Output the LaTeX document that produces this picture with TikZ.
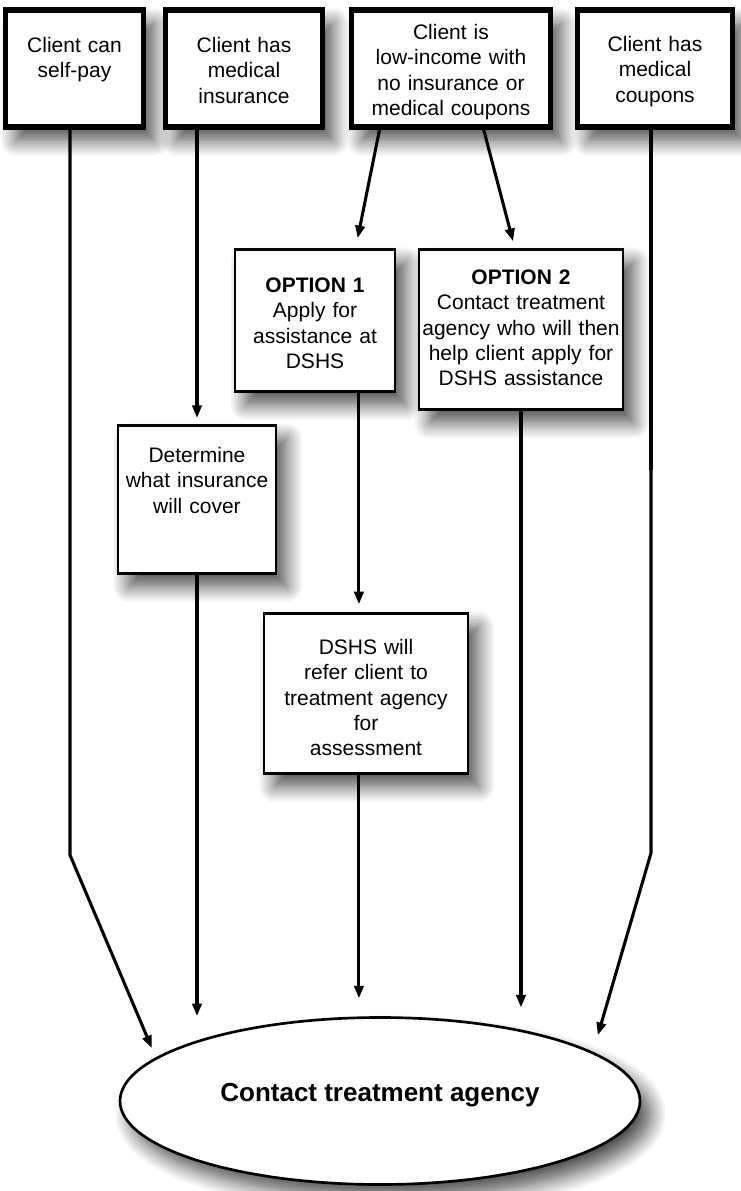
\documentclass[tikz,border=0pt]{standalone}
\usepackage{fontspec}
\setmainfont{Liberation Sans}
\usetikzlibrary{arrows.meta,calc,shapes.geometric,shadows.blur}

\tikzset{every picture/.style={line width=0.75pt}}
\tikzset{
  boxshadow/.style={blur shadow={shadow xshift=8pt, shadow yshift=-10pt, shadow blur radius=12pt, shadow blur steps=12, shadow opacity=70}},
  topbox/.style={draw, line width=4pt, fill=white, inner sep=0pt, align=center, anchor=north,
    font=\fontsize{15.75}{19}\selectfont, boxshadow},
  midbox/.style={topbox, line width=2pt},
  flowline/.style={line width=2.3pt, -{Triangle[length=9.5pt,width=7pt]}},
}

\begin{document}
\begin{tikzpicture}[x=0.75pt,y=0.75pt,yscale=-1,xscale=1]
\useasboundingbox (0,0) rectangle (740,1191);

%Shape: Rectangle [selfpay]
\draw (74.5,7.5) node [topbox, text width=103.5pt, text height=31.875pt, text depth=55.875pt] (selfpay) {Client can\\self-pay};
%Shape: Rectangle [insurance]
\draw (244,7.5) node [topbox, text width=117.75pt, text height=31.875pt, text depth=55.875pt] (insurance) {Client has\\medical\\insurance};
%Shape: Rectangle [lowincome]
\draw (451,7.5) node [topbox, text width=149.25pt, text height=22.125pt, text depth=65.625pt] (lowincome) {Client is\\low-income with\\no insurance or\\medical coupons};
%Shape: Rectangle [coupons]
\draw (655,7.5) node [topbox, text width=116.25pt, text height=31.125pt, text depth=56.625pt] (coupons) {Client has\\medical\\coupons};

%Shape: Rectangle [option 1]
\draw (315,248) node [midbox, text width=120pt, text height=32.25pt, text depth=74.25pt] (opt1) {\textbf{OPTION 1}\\Apply for\\assistance at\\DSHS};
%Shape: Rectangle [option 2]
\draw (521,248) node [midbox, text width=153pt, text height=26.25pt, text depth=93.75pt] (opt2) {\textbf{OPTION 2}\\Contact treatment\\agency who will then\\help client apply for\\DSHS assistance};
%Shape: Rectangle [determine]
\draw (197,424) node [midbox, text width=118.5pt, text height=27.75pt, text depth=83.25pt] (determine) {Determine\\what insurance\\will cover};
%Shape: Rectangle [dshs]
\draw (366,612) node [midbox, text width=153pt, text height=30.75pt, text depth=89.25pt] (dshs) {DSHS will\\refer client to\\treatment agency\\for\\assessment};

%Shape: Ellipse [agency]
\draw (380,1101) node [ellipse, draw, line width=2pt, fill=white, inner sep=0pt, minimum width=390pt, minimum height=125.25pt,
  text height=14pt, text depth=14pt, font=\bfseries\fontsize{19.5}{23}\selectfont, boxshadow] (agency) {Contact treatment agency};

\coordinate (spbend) at (70,855);
\coordinate (cpbend) at (651,853);
\coordinate (cpthick) at (651,470);
\coordinate (o1out) at ($(opt1.south west)!.77!(opt1.south east)$);

%Straight Lines
\draw [flowline, shorten >=7.5pt] (spbend |- selfpay.south) -- (spbend) -- (agency.169);
\draw [flowline, shorten >=4.5pt] (determine.north |- insurance.south) -- (determine.north);
\draw [flowline] (determine.south) -- (determine.south |- agency.north);

\draw [flowline, shorten >=7.5pt] ($(lowincome.south west)!.15!(lowincome.south east)$) -- ($(opt1.north west)!.75!(opt1.north east)$);
\draw [flowline, shorten >=5.2pt] ($(lowincome.south west)!.66!(lowincome.south east)$) -- ($(opt2.north west)!.47!(opt2.north east)$);

\draw [flowline, shorten >=5.8pt] (o1out) -- (o1out |- dshs.north);
\draw [flowline, shorten >=13.3pt] (o1out |- dshs.south) -- (o1out |- agency.north);
\draw [flowline, shorten >=6.5pt] (opt2.south) -- (opt2.south |- agency.north);

\draw [line width=3.2pt] (cpbend |- coupons.south) -- (cpthick);
\draw [flowline, shorten >=13pt] (cpbend |- coupons.south) -- (cpbend) -- (agency.13);

\end{tikzpicture}
\end{document}
